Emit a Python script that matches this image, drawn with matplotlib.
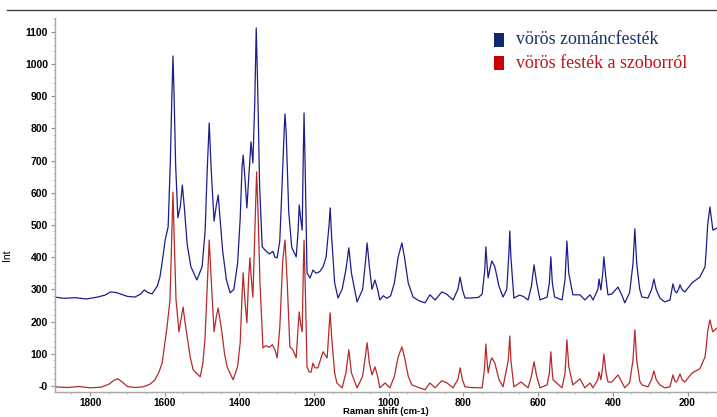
import matplotlib
matplotlib.use("Agg")
import matplotlib.pyplot as plt
from matplotlib.lines import Line2D
from matplotlib.patches import Rectangle
from matplotlib.ticker import MultipleLocator, FuncFormatter

# wavenumber (cm-1) / intensity pairs
BLUE_X = [1895, 1870, 1840, 1810, 1780, 1760, 1745, 1730, 1715, 1700, 1680, 1665, 1655, 1645,
          1634, 1620, 1613, 1605, 1599, 1591, 1585, 1581, 1578, 1575, 1571, 1565, 1558, 1553,
          1548, 1540, 1530, 1514, 1500, 1492, 1486, 1481, 1476, 1468, 1462, 1457, 1452, 1445,
          1435, 1425, 1415, 1405, 1398, 1393, 1390, 1385, 1380, 1375, 1369, 1364, 1359, 1355,
          1351, 1346, 1339, 1330, 1320, 1310, 1305, 1299, 1292, 1286, 1280, 1278, 1275, 1268,
          1260, 1248, 1243, 1240, 1236, 1232, 1229, 1227, 1224, 1219, 1211, 1203, 1195, 1185,
          1176, 1168, 1160, 1157, 1153, 1145, 1136, 1125, 1115, 1107, 1100, 1085, 1070, 1063,
          1058, 1052, 1045, 1037, 1030, 1024, 1015, 1005, 995, 985, 975, 965, 958, 948, 935,
          920, 903, 890, 876, 858, 845, 828, 815, 809, 803, 796, 780, 760, 750, 743, 740, 737,
          734, 728, 724, 716, 705, 694, 684, 678, 676, 673, 665, 650, 640, 627, 618, 611, 604,
          595, 576, 570, 566, 562, 556, 536, 528, 523, 518, 507, 488, 475, 461, 453, 440, 437,
          432, 427, 424, 418, 413, 403, 386, 375, 368, 355, 346, 341, 336, 328, 322, 306, 296,
          290, 284, 274, 261, 247, 239, 234, 229, 224, 220, 214, 207, 188, 167, 153, 150, 146,
          140, 135, 132, 121]
BLUE_Y = [276, 272, 274, 270, 276, 282, 292, 290, 284, 278, 276, 285, 298, 290,
          286, 310, 338, 400, 453, 494, 700, 900, 1025, 900, 690, 522, 560, 624,
          560, 440, 370, 329, 370, 480, 680, 817, 680, 512, 560, 593, 520, 420,
          330, 289, 300, 380, 520, 680, 717, 640, 553, 650, 758, 693, 880, 1112,
          920, 620, 432, 420, 410, 418, 400, 398, 450, 620, 800, 845, 790, 540,
          430, 401, 480, 562, 520, 484, 720, 848, 680, 351, 335, 360, 350, 355,
          370, 400, 500, 553, 460, 320, 273, 300, 360, 429, 350, 261, 300, 380,
          444, 370, 300, 329, 300, 267, 280, 272, 280, 320, 400, 444, 400, 320, 276,
          265, 258, 283, 267, 292, 285, 267, 300, 338, 300, 273, 273, 275, 285, 360, 432, 380,
          335, 370, 388, 370, 310, 276, 300, 420, 481, 400, 273, 282, 278, 267, 310, 376, 320,
          267, 276, 320, 401, 320, 276, 267, 330, 450, 350, 283, 283, 267, 283, 267, 300, 332,
          298, 350, 401, 330, 283, 285, 307, 280, 258, 290, 380, 488, 380, 300, 276, 273, 300,
          332, 300, 273, 261, 267, 317, 295, 289, 300, 314, 298, 292, 320, 338, 370, 420, 500,
          556, 510, 484, 490]

RED_X = [1895, 1860, 1830, 1800, 1770, 1750, 1735, 1725, 1712, 1700, 1680, 1658, 1640, 1626,
         1615, 1607, 1600, 1594, 1586, 1581, 1578, 1575, 1570, 1562, 1556, 1551, 1546, 1540,
         1532, 1524, 1505, 1498, 1492, 1486, 1481, 1476, 1468, 1462, 1457, 1452, 1447, 1440,
         1433, 1417, 1405, 1398, 1393, 1390, 1385, 1380, 1376, 1372, 1368, 1364, 1359, 1354,
         1350, 1345, 1337, 1330, 1320, 1312, 1305, 1299, 1292, 1284, 1278, 1272, 1265, 1257,
         1248, 1243, 1240, 1236, 1232, 1229, 1227, 1223, 1219, 1213, 1208, 1203, 1198, 1190,
         1176, 1165, 1160, 1157, 1153, 1145, 1139, 1125, 1115, 1107, 1100, 1085, 1070, 1063,
         1058, 1052, 1045, 1037, 1030, 1024, 1010, 997, 985, 975, 965, 958, 948, 938, 920,
         903, 890, 876, 858, 845, 828, 815, 809, 803, 796, 780, 750, 744, 740, 737, 734, 728,
         724, 716, 705, 694, 680, 676, 673, 665, 646, 627, 618, 611, 604, 595, 576, 570, 566,
         562, 560, 536, 528, 523, 518, 507, 488, 475, 461, 453, 440, 437, 432, 427, 424, 418,
         413, 403, 386, 368, 355, 346, 341, 336, 328, 322, 306, 296, 290, 284, 274, 261, 247,
         239, 234, 229, 220, 214, 207, 188, 167, 153, 150, 146, 140, 135, 132, 121]
RED_Y = [-3, -5, -2, -6, -4, 5, 18, 22, 10, -2, -5, -3, 5, 19,
         45, 71, 130, 183, 267, 470, 602, 470, 270, 168, 210, 245, 200, 152,
         90, 50, 28, 70, 152, 320, 453, 340, 168, 215, 242, 205, 168, 100,
         59, 19, 60, 134, 280, 351, 260, 196, 320, 398, 330, 276, 470, 665,
         530, 320, 118, 125, 120, 128, 112, 87, 180, 390, 453, 320, 121, 112,
         87, 180, 230, 190, 168, 360, 453, 270, 59, 43, 43, 71, 56, 56,
         106, 87, 180, 227, 150, 40, 9, -6, 40, 112, 40, -6, 30, 90,
         134, 70, 34, 59, 30, -6, 9, -6, 30, 90, 121, 90, 30, 3, -5,
         -12, 9, -6, 16, 10, -6, 20, 56, 20, -3, -5, -6, 50, 130, 80, 40, 75,
         87, 71, 20, -3, 80, 155, 80, -3, 12, -6, 30, 75, 30, -6, 3, 40, 106,
         40, 19, -6, 40, 143, 60, 3, 22, -6, 9, -6, 20, 43, 19, 60, 99, 40,
         12, 12, 34, -6, 10, 80, 174, 80, 15, 3, -3, 20, 47, 20, 3, -6, -3,
         34, 15, 12, 37, 18, 12, 40, 53, 90, 120, 170, 205, 180, 168, 180]

LEGEND_LABELS = ["vörös zománcfesték", "vörös festék a szoborról"]
X_TICKS = [1800, 1600, 1400, 1200, 1000, 800, 600, 400, 200]
Y_TICKS = list(range(0, 1200, 100))

W, H = 717, 417
fig = plt.figure(figsize=(W / 100, H / 100), dpi=100)
ax = fig.add_axes([55 / W, 1 - 392 / H, 662 / W, 374 / H])

ax.plot(BLUE_X, BLUE_Y, color="#1c1c8c", lw=0.9)
ax.plot(RED_X, RED_Y, color="#b52a2a", lw=0.9)

ax.set_xlim(1894, 121)
ax.set_ylim(-19, 1143)

ax.set_xticks(X_TICKS)
ax.set_yticks(Y_TICKS)
ax.xaxis.set_minor_locator(MultipleLocator(50))
ax.yaxis.set_minor_locator(MultipleLocator(20))
ax.yaxis.set_major_formatter(FuncFormatter(lambda v, p: "-0" if v == 0 else f"{int(v)}"))

for s in ["top", "right"]:
    ax.spines[s].set_visible(False)
for s in ["left", "bottom"]:
    ax.spines[s].set_color("#a8a8a8")
    ax.spines[s].set_linewidth(1.0)

ax.tick_params(which="major", length=3, color="#909090", labelsize=7.5, pad=2)
ax.tick_params(axis="x", which="major", labelsize=7.2, pad=1)
ax.tick_params(which="minor", length=1.5, color="#b0b0b0")
for lbl in ax.get_xticklabels() + ax.get_yticklabels():
    lbl.set_fontweight("bold")
    lbl.set_family("Liberation Sans")

ax.set_ylabel("Int", fontsize=7.5, family="Liberation Sans")
ax.yaxis.set_label_coords(-0.065, 0.366)
ax.set_xlabel("Raman shift (cm-1)", fontsize=6.8, fontweight="bold", family="Liberation Sans")
ax.xaxis.set_label_coords(0.5, -0.0515)
ax.xaxis.label.set_va("center")

# top separator line
fig.add_artist(Line2D([7 / W, 1], [1 - 10 / H, 1 - 10 / H], color="#404040", lw=1.0))

# legend drawn by hand: squares + serif text
legend_colors = [("#0e2a6a", "#1a2f6e"), ("#cc0000", "#c0141c")]
for i, (lab, (sq, tc)) in enumerate(zip(LEGEND_LABELS, legend_colors)):
    yc = 40 + i * 23
    fig.add_artist(Rectangle((494 / W, 1 - (yc + 7) / H), 10 / W, 14 / H,
                             facecolor=sq, edgecolor="none", transform=fig.transFigure))
    fig.text(516 / W, 1 - yc / H, lab, color=tc, fontsize=12.9,
             family="Liberation Serif", va="center", ha="left")

fig.savefig("out.png", dpi=100)
